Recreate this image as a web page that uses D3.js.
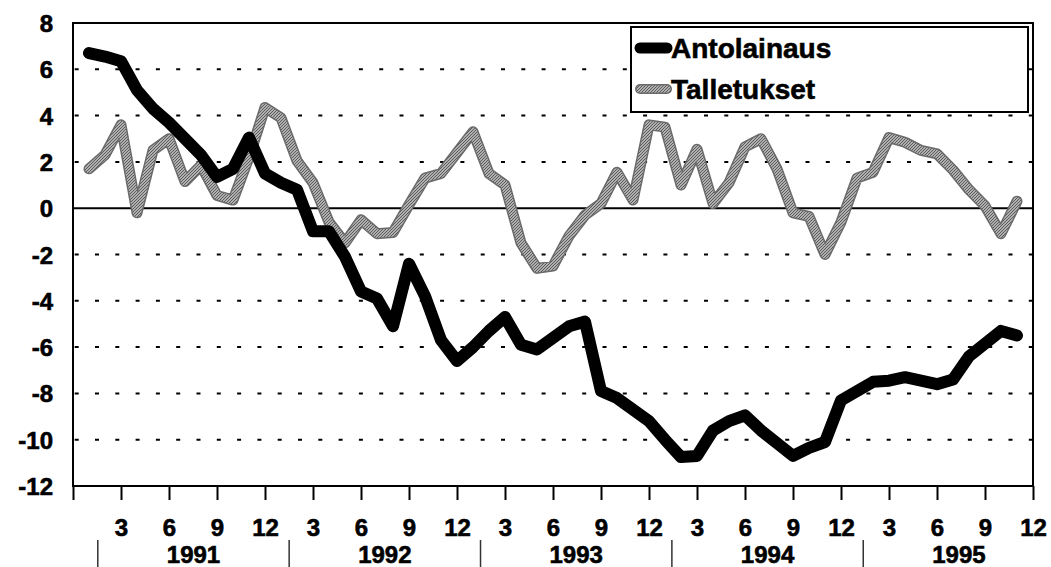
<!DOCTYPE html>
<html>
<head>
<meta charset="utf-8">
<script src="https://d3js.org/d3.v7.min.js"></script>
<style>
  body { margin: 0; background: #fff; }
  text { font-family: "Liberation Sans", Arial, sans-serif; font-weight: bold; fill: #000; stroke: #000; stroke-width: 0.6px; }
</style>
</head>
<body>
<svg id="frame"></svg>
<script>
  // monthly values, month 1 = Jan 1991
  var months = d3.range(1, 60);
  var antolainaus = [6.7, 6.55, 6.35, 5.1, 4.3, 3.7, 3.0, 2.3, 1.35, 1.7, 3.05, 1.5,
    1.1, 0.8, -1.0, -1.0, -2.1, -3.6, -3.9, -5.1, -2.4, -3.8, -5.7, -6.6,
    -6.0, -5.3, -4.7, -5.9, -6.1, -5.6, -5.1, -4.9, -7.9, -8.2, -8.7, -9.2,
    -10.0, -10.75, -10.7, -9.6, -9.2, -8.95, -9.6, -10.15, -10.7, -10.35, -10.1, -8.3,
    -7.9, -7.5, -7.45, -7.3, -7.45, -7.6, -7.4, -6.4, -5.85, -5.3, -5.5];
  var talletukset = [1.7, 2.3, 3.6, -0.2, 2.5, 3.0, 1.15, 1.85, 0.55, 0.35, 2.2, 4.35,
    3.9, 2.05, 1.1, -0.6, -1.5, -0.5, -1.1, -1.05, 0.15, 1.3, 1.5, 2.4,
    3.3, 1.5, 1.0, -1.5, -2.6, -2.5, -1.2, -0.3, 0.2, 1.55, 0.35, 3.6,
    3.5, 1.0, 2.55, 0.2, 1.1, 2.65, 3.0, 1.7, -0.2, -0.35, -2.0, -0.6,
    1.3, 1.55, 3.05, 2.85, 2.5, 2.35, 1.65, 0.8, 0.1, -1.1, 0.3];
  var years = ["1991", "1992", "1993", "1994", "1995"];
  var seriesNames = ["Antolainaus", "Talletukset"];
  var yTicks = [8, 6, 4, 2, 0, -2, -4, -6, -8, -10, -12];
  var xTicks = d3.range(0, 61, 3);

  var width = 1051, height = 567;
  var margin = {top: 23, right: 18, bottom: 81, left: 73};

  var svg = d3.select('#frame')
    .attr('width', width)
    .attr('height', height);

  // textured grey for the deposits line
  var defs = svg.append('defs');
  var pat = defs.append('pattern')
    .attr('id', 'hatch')
    .attr('patternUnits', 'userSpaceOnUse')
    .attr('width', 3)
    .attr('height', 3);
  pat.append('rect').attr('width', 3).attr('height', 3).attr('fill', '#d4d4d4');
  pat.append('path').attr('d', 'M0,3 L3,0 M-1,1 L1,-1 M2,4 L4,2')
    .attr('stroke', '#555').attr('stroke-width', 1.1);

  var x = d3.scaleLinear().domain([0, 60]).range([margin.left, width - margin.right]);
  var y = d3.scaleLinear().domain([-12, 8]).range([height - margin.bottom, margin.top]);

  // dashed grid
  svg.append('g')
    .selectAll('line')
    .data(yTicks.filter(function(d){ return d != 0 && d != 8 && d != -12; }))
    .enter().append('line')
    .attr('x1', x(0))
    .attr('x2', x(60))
    .attr('y1', function(d){ return y(d); })
    .attr('y2', function(d){ return y(d); })
    .attr('stroke', '#000')
    .attr('stroke-width', 2)
    .attr('stroke-dasharray', '4 16.3')
    .attr('stroke-dashoffset', -1.7);

  // zero line
  svg.append('line')
    .attr('x1', x(0)).attr('x2', x(60))
    .attr('y1', y(0)).attr('y2', y(0))
    .attr('stroke', '#000').attr('stroke-width', 2);

  // frame
  svg.append('rect')
    .attr('x', x(0)).attr('y', y(8))
    .attr('width', x(60) - x(0))
    .attr('height', y(-12) - y(8))
    .attr('fill', 'none')
    .attr('stroke', '#000')
    .attr('stroke-width', 2);

  // y labels
  svg.append('g')
    .selectAll('text')
    .data(yTicks)
    .enter().append('text')
    .attr('x', x(0) - 20)
    .attr('y', function(d){ return y(d) + 9; })
    .attr('text-anchor', 'end')
    .style('font-size', '24px')
    .text(function(d){ return d; });

  // x ticks + month labels
  var xAxis = d3.axisBottom(x)
    .tickValues(xTicks)
    .tickSize(14)
    .tickPadding(19)
    .tickFormat(function(d){ return d == 0 ? '' : (d % 12 == 0 ? 12 : d % 12); });
  var gx = svg.append('g')
    .attr('transform', 'translate(0,' + y(-12) + ')')
    .call(xAxis);
  gx.select('.domain').remove();
  gx.selectAll('line').attr('stroke', '#000').attr('stroke-width', 2);
  gx.selectAll('text')
    .style('font-size', '24px')
    .style('font-family', '"Liberation Sans", Arial, sans-serif')
    .style('font-weight', 'bold')
    .attr('fill', '#000');

  // year band below
  var yearScale = d3.scaleBand()
    .domain(years)
    .range([x(1.55), x(1.55 + 5 * 11.96)]);

  svg.append('g')
    .selectAll('line')
    .data(years)
    .enter().append('line')
    .attr('x1', function(d){ return yearScale(d); })
    .attr('x2', function(d){ return yearScale(d); })
    .attr('y1', 540)
    .attr('y2', height)
    .attr('stroke', '#333')
    .attr('stroke-width', 1.5);

  svg.append('g')
    .selectAll('text')
    .data(years)
    .enter().append('text')
    .attr('x', function(d){ return yearScale(d) + yearScale.bandwidth() / 2; })
    .attr('y', 563)
    .attr('text-anchor', 'middle')
    .style('font-size', '24px')
    .text(function(d){ return d; });

  var line = d3.line()
    .x(function(d, i){ return x(months[i]); })
    .y(function(d){ return y(d); });

  // Talletukset (grey, textured)
  svg.append('path')
    .attr('d', line(talletukset))
    .attr('fill', 'none')
    .attr('stroke', '#6a6a6a')
    .attr('stroke-width', 11)
    .attr('stroke-linejoin', 'round')
    .attr('stroke-linecap', 'round');
  svg.append('path')
    .attr('d', line(talletukset))
    .attr('fill', 'none')
    .attr('stroke', 'url(#hatch)')
    .attr('stroke-width', 8)
    .attr('stroke-linejoin', 'round')
    .attr('stroke-linecap', 'round');

  // Antolainaus (black)
  svg.append('path')
    .attr('d', line(antolainaus))
    .attr('fill', 'none')
    .attr('stroke', '#000')
    .attr('stroke-width', 12)
    .attr('stroke-linejoin', 'round')
    .attr('stroke-linecap', 'round');

  // legend
  var legend = svg.append('g');
  legend.append('rect')
    .attr('x', 631).attr('y', 27)
    .attr('width', 397).attr('height', 85)
    .attr('fill', '#fff')
    .attr('stroke', '#000')
    .attr('stroke-width', 2);

  var legendRows = legend.selectAll('g.row')
    .data(seriesNames)
    .enter().append('g')
    .attr('class', 'row')
    .attr('transform', function(d, i){ return 'translate(0,' + (48 + i * 41) + ')'; });

  legendRows.each(function(d, i){
    var row = d3.select(this);
    if (i == 0) {
      row.append('line').attr('x1', 640).attr('x2', 667).attr('y1', 0).attr('y2', 0)
        .attr('stroke', '#000').attr('stroke-width', 11).attr('stroke-linecap', 'round');
    } else {
      row.append('line').attr('x1', 640).attr('x2', 667).attr('y1', 0).attr('y2', 0)
        .attr('stroke', '#6a6a6a').attr('stroke-width', 10).attr('stroke-linecap', 'round');
      row.append('line').attr('x1', 640).attr('x2', 667).attr('y1', 0).attr('y2', 0)
        .attr('stroke', 'url(#hatch)').attr('stroke-width', 7).attr('stroke-linecap', 'round');
    }
    row.append('text')
      .attr('x', 671)
      .attr('y', 10)
      .style('font-size', '28px')
      .text(d);
  });
</script>
</body>
</html>
